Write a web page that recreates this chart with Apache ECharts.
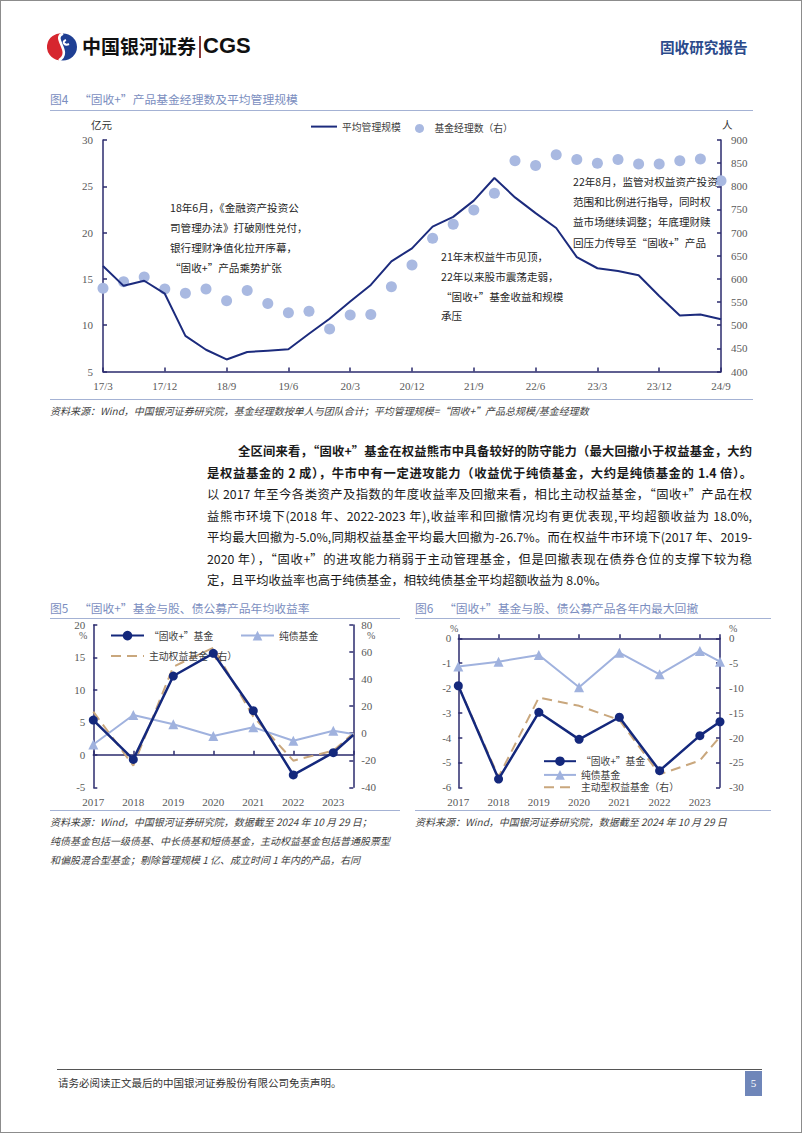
<!DOCTYPE html>
<html lang="zh-CN"><head><meta charset="utf-8">
<script src="https://cdn.jsdelivr.net/npm/echarts@6/dist/echarts.min.js"></script>
<style>
html,body{margin:0;padding:0;background:#fff;}
#page{position:relative;width:802px;height:1133px;overflow:hidden;background:#fff;font-family:"Noto Sans CJK SC","Noto Sans",sans-serif;}
#chart{position:absolute;left:0;top:0;width:802px;height:1133px;}
.t{position:absolute;white-space:nowrap;transform:translateY(-50%);line-height:1.2;z-index:2;}
.ttl{font-size:11.8px;color:#7b8ec0;}
.src{font-size:10px;color:#3f3f3f;font-style:italic;}
.ann{font-size:10.6px;color:#262626;}
.p{position:absolute;font-size:12.3px;color:#1a1a1a;text-align:justify;text-align-last:justify;transform:translateY(-50%);line-height:1.2;z-index:2;}
.hr{position:absolute;height:0;border-top:1.5px solid #a4b2d4;z-index:2;}
.pct{position:absolute;white-space:nowrap;transform:translateY(-50%);line-height:1;z-index:2;font-size:10px;color:#595959;font-family:'Liberation Serif';}
#border{position:absolute;left:0;top:0;width:802px;height:1133px;box-sizing:border-box;border:1px solid #8c8c8c;pointer-events:none;z-index:5;}
</style></head>
<body>
<div id="page">
  <div id="chart"></div>

  <!-- header -->
  <svg style="position:absolute;left:47px;top:32px;z-index:2" width="32" height="30" viewBox="0 0 32 30">
    <ellipse cx="16" cy="15" rx="14" ry="13.5" fill="#1f3f93"/>
    <path d="M16 1.5 C 4 6, 26 20, 12 28.3 A14 13.5 0 0 1 16 1.5 Z" fill="#d6262f"/>
    <path d="M16 1.5 C 4 6, 26 20, 12 28.3" fill="none" stroke="#fff" stroke-width="2.6"/>
    <path d="M19 8 C 14 10, 18 14, 22 12" fill="none" stroke="#fff" stroke-width="2"/>
  </svg>
  <div class="t" style="left:82px;top:46px;font-size:19px;font-weight:700;color:#111;">中国银河证券</div>
  <div style="position:absolute;left:199px;top:36px;width:1.5px;height:22px;background:#8b3a3a;z-index:2"></div>
  <div class="t" style="left:203px;top:46px;font-size:22px;font-weight:700;color:#111;font-family:'Liberation Sans',Arial,sans-serif;">CGS</div>
  <div class="t" style="left:660px;top:47px;font-size:14.6px;font-weight:700;color:#2b4a8b;">固收研究报告</div>

  <!-- figure 4 -->
  <div class="t ttl" style="left:50px;top:99px;">图4&nbsp;&nbsp;&nbsp;&nbsp;“固收+”产品基金经理数及平均管理规模</div>
  <div class="hr" style="left:50px;top:109.5px;width:703px;"></div>
  <div class="t" style="left:91px;top:125px;font-size:10.5px;color:#333;">亿元</div>
  <div class="t" style="left:722px;top:125px;font-size:10.5px;color:#333;">人</div>

  <div class="t ann" style="left:170px;top:208px;">18年6月，《金融资产投资公</div>
  <div class="t ann" style="left:170px;top:228px;">司管理办法》打破刚性兑付，</div>
  <div class="t ann" style="left:170px;top:248px;">银行理财净值化拉开序幕，</div>
  <div class="t ann" style="left:170px;top:268px;">“固收+”产品乘势扩张</div>

  <div class="t ann" style="left:441px;top:257px;">21年末权益牛市见顶，</div>
  <div class="t ann" style="left:441px;top:277px;">22年以来股市震荡走弱，</div>
  <div class="t ann" style="left:441px;top:297px;">“固收+”基金收益和规模</div>
  <div class="t ann" style="left:441px;top:316px;">承压</div>

  <div class="t ann" style="left:573px;top:182px;">22年8月，监管对权益资产投资</div>
  <div class="t ann" style="left:573px;top:202px;">范围和比例进行指导，同时权</div>
  <div class="t ann" style="left:573px;top:222px;">益市场继续调整；年底理财赎</div>
  <div class="t ann" style="left:573px;top:243px;">回压力传导至“固收+”产品</div>

  <div class="hr" style="left:50px;top:398.5px;width:703px;"></div>
  <div class="t src" style="left:50px;top:411px;">资料来源：Wind，中国银河证券研究院，基金经理数按单人与团队合计；平均管理规模=“固收+”产品总规模/基金经理数</div>

  <!-- paragraph -->
  <div class="p" style="left:238px;top:451px;width:514px;font-weight:700;">全区间来看，“固收+”基金在权益熊市中具备较好的防守能力（最大回撤小于权益基金，大约</div>
  <div class="p" style="left:207px;top:472.5px;width:545px;font-weight:700;">是权益基金的 2 成），牛市中有一定进攻能力（收益优于纯债基金，大约是纯债基金的 1.4 倍）。</div>
  <div class="p" style="left:207px;top:494px;width:545px;">以 2017 年至今各类资产及指数的年度收益率及回撤来看，相比主动权益基金，“固收+”产品在权</div>
  <div class="p" style="left:207px;top:515.5px;width:545px;">益熊市环境下(2018 年、2022-2023 年),收益率和回撤情况均有更优表现,平均超额收益为 18.0%,</div>
  <div class="p" style="left:207px;top:537px;width:545px;">平均最大回撤为-5.0%,同期权益基金平均最大回撤为-26.7%。而在权益牛市环境下(2017 年、2019-</div>
  <div class="p" style="left:207px;top:558.5px;width:545px;">2020 年），“固收+”的进攻能力稍弱于主动管理基金，但是回撤表现在债券仓位的支撑下较为稳</div>
  <div class="t" style="left:207px;top:580px;font-size:12.3px;color:#1a1a1a;">定，且平均收益率也高于纯债基金，相较纯债基金平均超额收益为 8.0%。</div>

  <!-- figure 5 -->
  <div class="t ttl" style="left:50px;top:608px;">图5&nbsp;&nbsp;&nbsp;&nbsp;“固收+”基金与股、债公募产品年均收益率</div>
  <div class="hr" style="left:50px;top:617.5px;width:350px;"></div>
  <div class="pct" style="left:79px;top:636px;">%</div>
  <div class="pct" style="left:367px;top:636px;">%</div>
  <div class="hr" style="left:50px;top:809.5px;width:350px;"></div>
  <div class="t src" style="left:50px;top:822px;">资料来源：Wind，中国银河证券研究院，数据截至 2024 年 10 月 29 日；</div>
  <div class="t src" style="left:50px;top:841px;">纯债基金包括一级债基、中长债基和短债基金，主动权益基金包括普通股票型</div>
  <div class="t src" style="left:50px;top:860px;">和偏股混合型基金；剔除管理规模 1 亿、成立时间 1 年内的产品，右同</div>

  <!-- figure 6 -->
  <div class="t ttl" style="left:415px;top:608px;">图6&nbsp;&nbsp;&nbsp;&nbsp;“固收+”基金与股、债公募产品各年内最大回撤</div>
  <div class="hr" style="left:415px;top:617.5px;width:356px;"></div>
  <div class="pct" style="left:450px;top:629px;">%</div>
  <div class="pct" style="left:729px;top:629px;">%</div>
  <div class="hr" style="left:415px;top:809.5px;width:356px;"></div>
  <div class="t src" style="left:415px;top:822px;">资料来源：Wind，中国银河证券研究院，数据截至 2024 年 10 月 29 日</div>

  <!-- footer -->
  <div style="position:absolute;left:57px;top:1069px;width:705px;height:0;border-top:1.5px solid #555;z-index:2"></div>
  <div class="t" style="left:58px;top:1083px;font-size:10.5px;color:#333;">请务必阅读正文最后的中国银河证券股份有限公司免责声明。</div>
  <div style="position:absolute;left:745px;top:1071px;width:17px;height:25px;background:#6f86b9;color:#fff;font-size:11px;line-height:25px;text-align:center;font-family:'Liberation Serif';z-index:2">5</div>

  <div id="border"></div>
</div>

<script>
// ---------- Figure 4 data (quarterly) ----------
const quarterLabels = ['17/3','17/6','17/9','17/12','18/3','18/6','18/9','18/12','19/3','19/6','19/9','19/12',
  '20/3','20/6','20/9','20/12','21/3','21/6','21/9','21/12','22/3','22/6','22/9','22/12',
  '23/3','23/6','23/9','23/12','24/3','24/6','24/9'];
// 平均管理规模 (亿元)
const avgScale = [16.4,14.25,14.8,13.4,8.85,7.35,6.3,7.1,7.25,7.4,9.07,10.7,
  12.55,14.35,16.9,18.3,20.65,21.7,23.45,25.9,23.8,22.1,20.5,17.35,
  16.15,15.85,15.4,13.15,11.05,11.15,10.65];
// 基金经理数 (人, 右轴)
const managerCount = [580,594,604,578,569,578,553,575,547,527,530,492,
  522,523,583,630,688,718,749,785,855,845,868,858,
  850,858,848,848,855,859,812];

// ---------- Figures 5 & 6 data (annual; last point = 2024 YTD, drawn at right edge) ----------
const periods = [2017,2018,2019,2020,2021,2022,2023,2023.5];
// 图5 年均收益率 (%)
const retFixedPlus = [5.36,-0.7,12.14,15.64,6.8,-3.1,0.33,3.05];
const retPureBond  = [1.6,6.13,4.7,2.9,4.24,2.17,3.72,3.2];
const retEquity    = [15.9,-24,49.2,63.2,12.2,-20.3,-12.9,0];   // 右轴
// 图6 年内最大回撤 (%)
const ddFixedPlus = [-1.91,-5.67,-2.98,-4.07,-3.18,-5.33,-3.92,-3.36];
const ddPureBond  = [-1.14,-0.94,-0.67,-1.97,-0.58,-1.45,-0.51,-0.94];
const ddEquity    = [-9.54,-27.9,-11.95,-13.6,-16.45,-27.4,-24.6,-19.8]; // 右轴

const NAME_FP = '“固收+”基金', NAME_PB = '纯债基金';
const NAME_EQ5 = '主动权益基金（右）', NAME_EQ6 = '主动型权益基金（右）';

const AX = '#2b2b6e', LBL = '#595959', SERIF = 'Liberation Serif', CJK = 'Noto Sans CJK SC';
const C_FP = '#14287c', C_PB = '#a0b2de', C_EQ = '#c9a77d';

function lbl(margin, extra) { return Object.assign({color: LBL, fontFamily: SERIF, fontSize: 11, margin: margin}, extra || {}); }
function line(show, onZero) { return {show: show, onZero: !!onZero, lineStyle: {color: AX, width: 1.5}}; }
function tick(inside, extra) { return Object.assign({show: true, inside: inside, length: 4, lineStyle: {color: AX, width: 1.5}}, extra || {}); }
const yearFmt = v => (Number.isInteger(v) ? String(v) : '');
const pairs = arr => periods.map((p, i) => [p, arr[i]]);
const pairsHideLast = arr => periods.map((p, i) => i === periods.length - 1 ? {value: [p, arr[i]], symbol: 'none'} : [p, arr[i]]);

function legend(name, left, top, w, h, extra) {
  return Object.assign({
    data: [name], left: left, top: top, padding: 0, itemGap: 0, itemWidth: w, itemHeight: h,
    selectedMode: false, textStyle: {fontFamily: CJK, fontSize: 9.8, color: '#404040'}
  }, extra || {});
}
const noSym = {itemStyle: {opacity: 0}};

const chart = echarts.init(document.getElementById('chart'), null, {renderer: 'svg'});
chart.setOption({
  animation: false,
  backgroundColor: 'transparent',
  grid: [
    {left: 103, top: 140, width: 618, height: 231.5, outerBoundsMode: 'none'},
    {left: 93.3, top: 625, width: 260, height: 162.3, outerBoundsMode: 'none'},
    {left: 458.3, top: 638.3, width: 261.7, height: 149, outerBoundsMode: 'none'}
  ],
  xAxis: [
    {type: 'category', gridIndex: 0, data: quarterLabels, boundaryGap: false, position: 'bottom',
     axisLine: line(true), axisTick: tick(true, {interval: 2}), axisLabel: lbl(9, {interval: 2}), splitLine: {show: false}},
    {type: 'value', gridIndex: 1, min: 2017, max: 2023.5, interval: 1, position: 'bottom',
     axisLine: {show: true, onZero: true, onZeroAxisIndex: 2, lineStyle: {color: AX, width: 1.5}},
     axisTick: tick(true), axisLabel: {show: false}, splitLine: {show: false}},
    {type: 'value', gridIndex: 1, min: 2017, max: 2023.5, interval: 1, position: 'bottom',
     axisLine: {show: false, onZero: false}, axisTick: {show: false}, axisLabel: lbl(9, {formatter: yearFmt}), splitLine: {show: false}},
    {type: 'value', gridIndex: 2, min: 2017, max: 2023.5, interval: 1, position: 'top',
     axisLine: line(true), axisTick: tick(false), axisLabel: {show: false}, splitLine: {show: false}},
    {type: 'value', gridIndex: 2, min: 2017, max: 2023.5, interval: 1, position: 'bottom',
     axisLine: {show: false, onZero: false}, axisTick: {show: false}, axisLabel: lbl(9, {formatter: yearFmt}), splitLine: {show: false}}
  ],
  yAxis: [
    {type: 'value', gridIndex: 0, position: 'left', min: 5, max: 30, interval: 5,
     axisLine: line(true), axisTick: tick(true), axisLabel: lbl(10), splitLine: {show: false}},
    {type: 'value', gridIndex: 0, position: 'right', min: 400, max: 900, interval: 50,
     axisLine: line(true), axisTick: tick(true), axisLabel: lbl(10), splitLine: {show: false}},
    {type: 'value', gridIndex: 1, position: 'left', min: -5, max: 20, interval: 5,
     axisLine: line(true), axisTick: tick(true), axisLabel: lbl(8), splitLine: {show: false}},
    {type: 'value', gridIndex: 1, position: 'right', min: -40, max: 80, interval: 20,
     axisLine: line(true), axisTick: tick(true), axisLabel: lbl(8), splitLine: {show: false}},
    {type: 'value', gridIndex: 2, position: 'left', min: -6, max: 0, interval: 1,
     axisLine: line(true), axisTick: tick(true), axisLabel: lbl(7), splitLine: {show: false}},
    {type: 'value', gridIndex: 2, position: 'right', min: -30, max: 0, interval: 5,
     axisLine: line(true), axisTick: tick(true), axisLabel: lbl(9), splitLine: {show: false}}
  ],
  legend: [
    legend('平均管理规模', 310, 121, 26, 14, noSym),
    legend('基金经理数（右）', 415, 123.5, 20, 9, {icon: 'circle'}),
    legend(NAME_FP, 110, 630.7, 33, 12),
    legend(NAME_PB, 240, 630.7, 33, 12),
    legend(NAME_EQ5, 110, 651, 33, 12, noSym),
    legend(NAME_FP, 543, 756.3, 32, 12),
    legend(NAME_PB, 543, 770, 32, 12),
    legend(NAME_EQ6, 543, 782.3, 32, 12, noSym)
  ],
  series: [
    {name: '基金经理数（右）', type: 'scatter', xAxisIndex: 0, yAxisIndex: 1, data: managerCount,
     symbolSize: 11, itemStyle: {color: '#a9b9e1', opacity: 1}, z: 2},
    {name: '平均管理规模', type: 'line', xAxisIndex: 0, yAxisIndex: 0, data: avgScale,
     symbol: 'none', lineStyle: {color: '#1c2b7d', width: 2}, itemStyle: {color: '#1c2b7d'}, z: 3},

    {name: NAME_EQ5, type: 'line', xAxisIndex: 1, yAxisIndex: 3, data: pairs(retEquity),
     symbol: 'none', lineStyle: {color: C_EQ, width: 2, type: [10, 6]}, itemStyle: {color: C_EQ}, z: 2},
    {name: NAME_PB, type: 'line', xAxisIndex: 1, yAxisIndex: 2, data: pairsHideLast(retPureBond),
     symbol: 'triangle', symbolSize: 10, lineStyle: {color: C_PB, width: 2}, itemStyle: {color: C_PB}, z: 3},
    {name: NAME_FP, type: 'line', xAxisIndex: 1, yAxisIndex: 2, data: pairsHideLast(retFixedPlus),
     symbol: 'circle', symbolSize: 9, lineStyle: {color: C_FP, width: 2.5}, itemStyle: {color: C_FP}, z: 4},

    {name: NAME_EQ6, type: 'line', xAxisIndex: 3, yAxisIndex: 5, data: pairs(ddEquity),
     symbol: 'none', lineStyle: {color: C_EQ, width: 2, type: [10, 6]}, itemStyle: {color: C_EQ}, z: 2},
    {name: NAME_PB, type: 'line', xAxisIndex: 3, yAxisIndex: 4, data: pairs(ddPureBond),
     symbol: 'triangle', symbolSize: 10, lineStyle: {color: C_PB, width: 2}, itemStyle: {color: C_PB}, z: 3},
    {name: NAME_FP, type: 'line', xAxisIndex: 3, yAxisIndex: 4, data: pairs(ddFixedPlus),
     symbol: 'circle', symbolSize: 9, lineStyle: {color: C_FP, width: 2.5}, itemStyle: {color: C_FP}, z: 4}
  ]
});
</script>
</body></html>
